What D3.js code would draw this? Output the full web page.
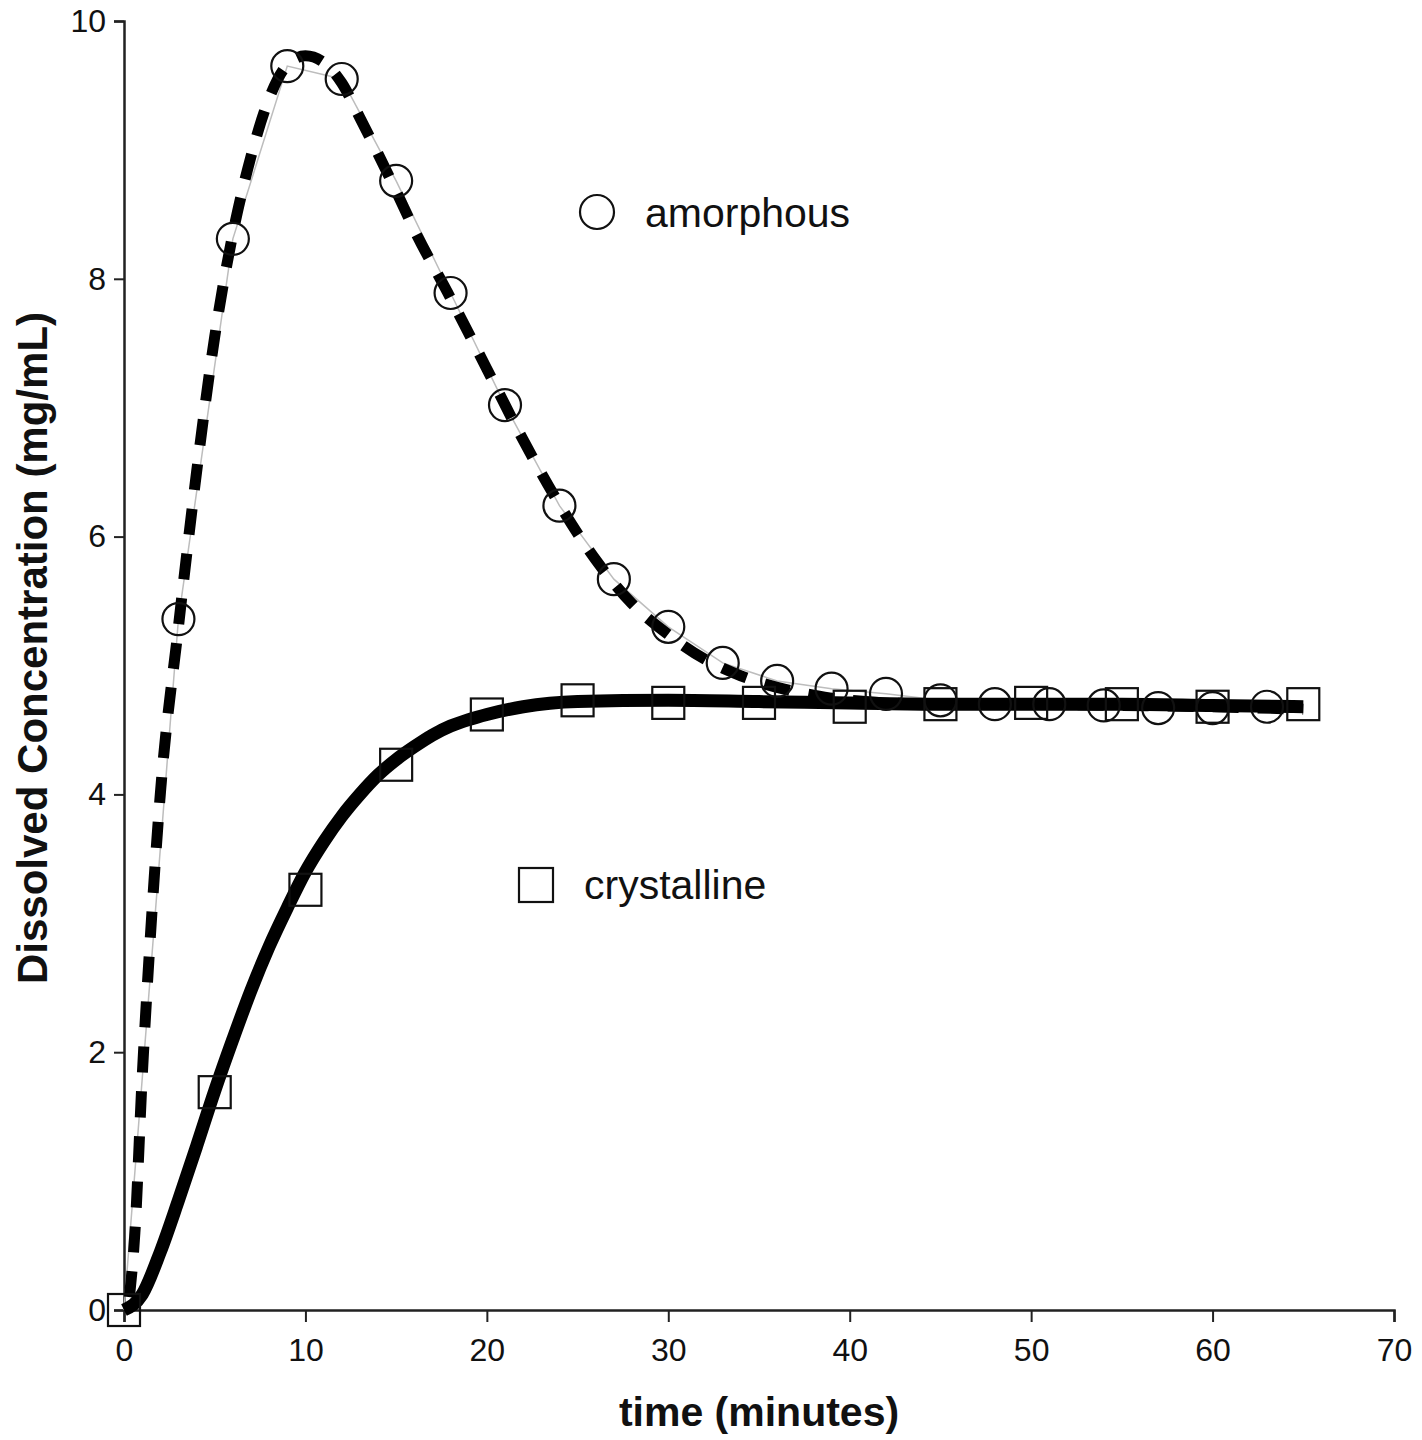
<!DOCTYPE html>
<html>
<head>
<meta charset="utf-8">
<script src="https://cdn.jsdelivr.net/npm/d3@7"></script>
<style>
  body { margin: 0; background: #fff; }
  svg { display: block; font-family: "Liberation Sans", Arial, sans-serif; }
</style>
</head>
<body>
<div id="chart"></div>
<script>
// measured points
const amorphousTime = [3, 6, 9, 12, 15, 18, 21, 24, 27, 30, 33, 36, 39, 42, 45, 48, 51, 54, 57, 60, 63];
const amorphousConc = [5.36, 8.31, 9.65, 9.55, 8.76, 7.89, 7.02, 6.24, 5.67, 5.30, 5.02, 4.88, 4.82, 4.78, 4.73, 4.70, 4.70, 4.69, 4.67, 4.67, 4.68];

const crystallineTime = [0, 5, 10, 15, 20, 25, 30, 35, 40, 45, 50, 55, 60, 65];
const crystallineConc = [0, 1.69, 3.26, 4.23, 4.62, 4.73, 4.71, 4.71, 4.68, 4.70, 4.71, 4.70, 4.68, 4.70];

// fitted curves
const amorphousFitTime = [0.3, 0.6, 1, 1.5, 2, 3, 4, 5, 6, 7, 8, 9, 10, 11, 12, 13, 14, 15, 16, 18, 20, 22, 24, 26, 28, 30, 32, 34, 36, 38, 40, 45, 50, 55, 60, 65];
const amorphousFitConc = [0.1, 0.6, 1.8, 3.0, 4.0, 5.3, 6.5, 7.55, 8.35, 8.95, 9.4, 9.66, 9.73, 9.68, 9.52, 9.25, 8.97, 8.68, 8.38, 7.85, 7.3, 6.75, 6.25, 5.82, 5.48, 5.24, 5.05, 4.92, 4.83, 4.77, 4.73, 4.7, 4.7, 4.69, 4.68, 4.66];

const crystallineFitTime = [0, 1, 2, 3, 4, 5, 6, 7, 8, 9, 10, 11, 12, 13, 14, 15, 16, 17, 18, 19, 20, 22, 25, 30, 35, 40, 45, 50, 55, 60, 65];
const crystallineFitConc = [0, 0.12, 0.45, 0.85, 1.27, 1.7, 2.1, 2.48, 2.82, 3.12, 3.4, 3.63, 3.83, 4.0, 4.15, 4.27, 4.37, 4.46, 4.53, 4.58, 4.62, 4.68, 4.72, 4.73, 4.72, 4.71, 4.7, 4.7, 4.7, 4.69, 4.68];

const xTicks = [0, 10, 20, 30, 40, 50, 60, 70];
const yTicks = [0, 2, 4, 6, 8, 10];

const drawChart = () => {
  const width = 1422;
  const height = 1440;
  const margin = { top: 21, right: 28, bottom: 130, left: 124 };
  const innerWidth = width - margin.left - margin.right;
  const innerHeight = height - margin.top - margin.bottom;

  const svg = d3.select("#chart")
    .append("svg")
      .attr("width", width)
      .attr("height", height);

  const innerChart = svg
    .append("g")
      .attr("transform", `translate(${margin.left}, ${margin.top})`);

  const xScale = d3.scaleLinear()
    .domain([0, 70])
    .range([0, innerWidth]);

  const yScale = d3.scaleLinear()
    .domain([0, 10])
    .range([innerHeight, 0]);

  // axes
  const xAxis = d3.axisBottom(xScale)
    .tickValues(xTicks)
    .tickSizeOuter(0)
    .tickSize(12)
    .tickPadding(16);
  const yAxis = d3.axisLeft(yScale)
    .tickValues(yTicks)
    .tickSizeOuter(0)
    .tickSize(10)
    .tickPadding(8);

  const xg = innerChart.append("g")
    .attr("transform", `translate(0, ${innerHeight})`)
    .call(xAxis);
  const yg = innerChart.append("g")
    .call(yAxis);

  [xg, yg].forEach(g => {
    g.attr("font-size", null);
    g.select(".domain").attr("stroke", "#222").attr("stroke-width", 2.5);
    g.selectAll(".tick line").attr("stroke", "#222").attr("stroke-width", 2);
    g.selectAll(".tick text")
      .attr("fill", "#111")
      .style("font-family", "'Liberation Sans', Arial, sans-serif")
      .style("font-size", "32px");
  });

  // axis titles
  svg.append("text")
    .text("time (minutes)")
    .attr("x", margin.left + xScale(35))
    .attr("y", 1426)
    .attr("text-anchor", "middle")
    .attr("fill", "#111")
    .style("font-size", "41px")
    .style("font-weight", 700);

  svg.append("text")
    .text("Dissolved Concentration (mg/mL)")
    .attr("transform", `translate(47, 648) rotate(-90)`)
    .attr("text-anchor", "middle")
    .attr("fill", "#111")
    .style("font-size", "42px")
    .style("font-weight", 700);

  const lineGen = d3.line()
    .x(d => xScale(d[0]))
    .y(d => yScale(d[1]));

  const smoothGen = d3.line()
    .x(d => xScale(d[0]))
    .y(d => yScale(d[1]))
    .curve(d3.curveMonotoneX);

  const amorphousPts = d3.zip(amorphousTime, amorphousConc);
  const crystallinePts = d3.zip(crystallineTime, crystallineConc);

  // thin grey connector through the amorphous points
  innerChart.append("path")
    .datum([[0, 0]].concat(amorphousPts))
    .attr("d", lineGen)
    .attr("fill", "none")
    .attr("stroke", "#bdbdbd")
    .attr("stroke-width", 1.5);

  // fits
  innerChart.append("path")
    .datum(d3.zip(crystallineFitTime, crystallineFitConc))
    .attr("d", smoothGen)
    .attr("fill", "none")
    .attr("stroke", "#000")
    .attr("stroke-width", 13);

  innerChart.append("path")
    .datum(d3.zip(amorphousFitTime, amorphousFitConc))
    .attr("d", smoothGen)
    .attr("fill", "none")
    .attr("stroke", "#000")
    .attr("stroke-width", 11)
    .attr("stroke-dasharray", "26 19");

  // markers
  innerChart.selectAll(".circ")
    .data(amorphousPts)
    .join("circle")
      .attr("class", "circ")
      .attr("cx", d => xScale(d[0]))
      .attr("cy", d => yScale(d[1]))
      .attr("r", 16)
      .attr("fill", "none")
      .attr("stroke", "#111")
      .attr("stroke-width", 2.2);

  const sq = 32;
  innerChart.selectAll(".sq")
    .data(crystallinePts)
    .join("rect")
      .attr("class", "sq")
      .attr("x", d => xScale(d[0]) - sq / 2)
      .attr("y", d => yScale(d[1]) - sq / 2)
      .attr("width", sq)
      .attr("height", sq)
      .attr("fill", "none")
      .attr("stroke", "#111")
      .attr("stroke-width", 2.2);

  // legend labels
  const legend = svg.append("g");
  legend.append("circle")
    .attr("cx", 597).attr("cy", 212).attr("r", 17)
    .attr("fill", "none").attr("stroke", "#111").attr("stroke-width", 2.2);
  legend.append("text")
    .text("amorphous")
    .attr("x", 645).attr("y", 227)
    .attr("fill", "#111")
    .style("font-size", "41px");

  legend.append("rect")
    .attr("x", 536 - 17).attr("y", 885 - 17)
    .attr("width", 34).attr("height", 34)
    .attr("fill", "none").attr("stroke", "#111").attr("stroke-width", 2.2);
  legend.append("text")
    .text("crystalline")
    .attr("x", 584).attr("y", 899)
    .attr("fill", "#111")
    .style("font-size", "41px");
};

drawChart();
</script>
</body>
</html>
